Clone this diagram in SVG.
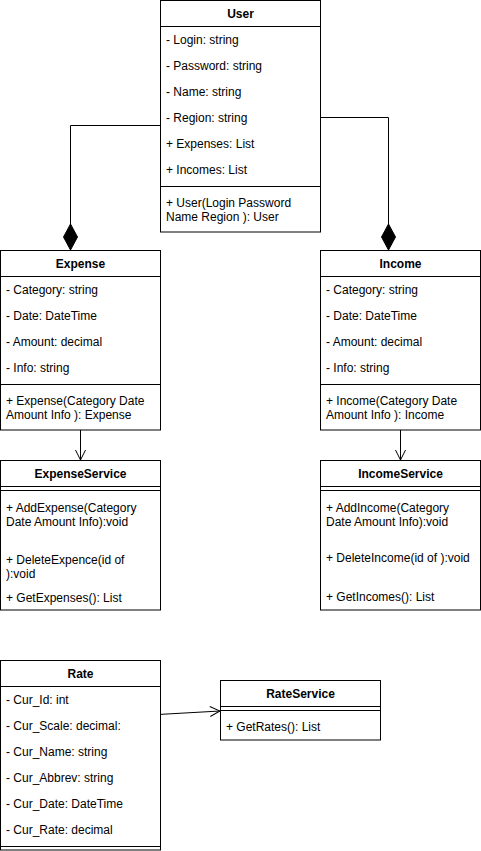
<svg xmlns="http://www.w3.org/2000/svg" width="481" height="851" viewBox="0 0 481 851">
<style>
.box{fill:#fff;stroke:#000;stroke-width:1}
.ln{stroke:#000;stroke-width:1;fill:none}
text{font-family:"Liberation Sans",Arial,sans-serif;font-size:12px;fill:#000}
.h{font-weight:bold;text-anchor:middle}
.conn{stroke:#000;stroke-width:1;fill:none}
</style>
<defs>
<marker id="diamond" viewBox="0 0 26 16" refX="26" refY="8" markerWidth="26" markerHeight="16" markerUnits="userSpaceOnUse" orient="auto">
<path d="M0,8 L13,1 L26,8 L13,15 Z" fill="#000" stroke="#000" stroke-width="1"/>
</marker>
<marker id="open" viewBox="0 0 12 12" refX="11" refY="6" markerWidth="12" markerHeight="12" markerUnits="userSpaceOnUse" orient="auto">
<path d="M1,1 L11,6 L1,11" fill="none" stroke="#000" stroke-width="1"/>
</marker>
</defs>

<g id="connectors">
<path class="conn" d="M160.5,125.5 H70.5 V250" marker-end="url(#diamond)"/>
<path class="conn" d="M320.5,117.5 H388.5 V250" marker-end="url(#diamond)"/>
<path class="conn" d="M80.5,430 V460" marker-end="url(#open)"/>
<path class="conn" d="M400.5,430 V460" marker-end="url(#open)"/>
<path class="conn" d="M158,714.5 L220,711" marker-end="url(#open)"/>
</g>

<g id="user">
<rect class="box" x="160.5" y="0.5" width="160" height="231.5"/>
<line class="ln" x1="160.5" y1="26.5" x2="320.5" y2="26.5"/>
<line class="ln" x1="160.5" y1="186.5" x2="320.5" y2="186.5"/>
<text class="h" x="240.5" y="18">User</text>
<text x="166" y="44">- Login: string</text>
<text x="166" y="70">- Password: string</text>
<text x="166" y="96">- Name: string</text>
<text x="166" y="122">- Region: string</text>
<text x="166" y="148">+ Expenses: List</text>
<text x="166" y="174">+ Incomes: List</text>
<text x="166" y="207">+ User(Login Password</text>
<text x="166" y="221">Name Region ): User</text>
</g>

<g id="expense">
<rect class="box" x="0.5" y="250.5" width="160" height="179.5"/>
<line class="ln" x1="0.5" y1="276.5" x2="160.5" y2="276.5"/>
<line class="ln" x1="0.5" y1="384.5" x2="160.5" y2="384.5"/>
<text class="h" x="80.5" y="268">Expense</text>
<text x="6" y="294">- Category: string</text>
<text x="6" y="320">- Date: DateTime</text>
<text x="6" y="346">- Amount: decimal</text>
<text x="6" y="372">- Info: string</text>
<text x="6" y="405">+ Expense(Category Date</text>
<text x="6" y="419">Amount Info ): Expense</text>
</g>

<g id="income">
<rect class="box" x="320.5" y="250.5" width="160" height="179.5"/>
<line class="ln" x1="320.5" y1="276.5" x2="480.5" y2="276.5"/>
<line class="ln" x1="320.5" y1="384.5" x2="480.5" y2="384.5"/>
<text class="h" x="400.5" y="268">Income</text>
<text x="326" y="294">- Category: string</text>
<text x="326" y="320">- Date: DateTime</text>
<text x="326" y="346">- Amount: decimal</text>
<text x="326" y="372">- Info: string</text>
<text x="326" y="405">+ Income(Category Date</text>
<text x="326" y="419">Amount Info ): Income</text>
</g>

<g id="expenseService">
<rect class="box" x="0.5" y="460.5" width="160" height="149.5"/>
<line class="ln" x1="0.5" y1="486.5" x2="160.5" y2="486.5"/>
<line class="ln" x1="0.5" y1="490.5" x2="160.5" y2="490.5"/>
<text class="h" x="80.5" y="478">ExpenseService</text>
<text x="6" y="512">+ AddExpense(Category</text>
<text x="6" y="525.5">Date Amount Info):void</text>
<text x="6" y="564">+ DeleteExpence(id of</text>
<text x="6" y="577.5">):void</text>
<text x="6" y="602">+ GetExpenses(): List</text>
</g>

<g id="incomeService">
<rect class="box" x="320.5" y="460.5" width="160" height="149.5"/>
<line class="ln" x1="320.5" y1="486.5" x2="480.5" y2="486.5"/>
<line class="ln" x1="320.5" y1="490.5" x2="480.5" y2="490.5"/>
<text class="h" x="400.5" y="478">IncomeService</text>
<text x="326" y="512">+ AddIncome(Category</text>
<text x="326" y="525.5">Date Amount Info):void</text>
<text x="326" y="562">+ DeleteIncome(id of ):void</text>
<text x="326" y="601">+ GetIncomes(): List</text>
</g>

<g id="rate">
<rect class="box" x="0.5" y="660.5" width="160" height="189.5"/>
<line class="ln" x1="0.5" y1="686.5" x2="160.5" y2="686.5"/>
<line class="ln" x1="0.5" y1="846.5" x2="160.5" y2="846.5"/>
<text class="h" x="80.5" y="678">Rate</text>
<text x="6" y="704">- Cur_Id: int</text>
<text x="6" y="730">- Cur_Scale: decimal:</text>
<text x="6" y="756">- Cur_Name: string</text>
<text x="6" y="782">- Cur_Abbrev: string</text>
<text x="6" y="808">- Cur_Date: DateTime</text>
<text x="6" y="834">- Cur_Rate: decimal</text>
</g>

<g id="rateService">
<rect class="box" x="220.5" y="680.5" width="160" height="59.5"/>
<line class="ln" x1="220.5" y1="706.5" x2="380.5" y2="706.5"/>
<line class="ln" x1="220.5" y1="710.5" x2="380.5" y2="710.5"/>
<text class="h" x="300.5" y="698">RateService</text>
<text x="226" y="731">+ GetRates(): List</text>
</g>
</svg>
